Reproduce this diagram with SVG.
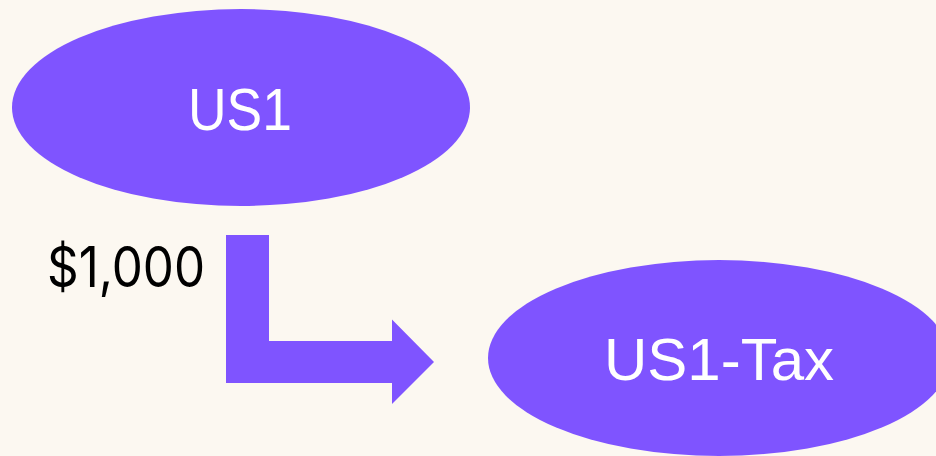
<svg xmlns="http://www.w3.org/2000/svg" width="936" height="456" viewBox="0 0 936 456">
<style>
.node{fill:#7F54FF}
.nt{fill:#FFFFFF;font-family:"Liberation Sans",Arial,sans-serif;font-size:60px;text-anchor:middle}
.lbl{fill:#000000;font-family:Inter,"Liberation Sans",sans-serif;font-size:56px}
</style>
<rect width="936" height="456" fill="#FCF8F1"/>
<g id="us1">
<ellipse class="node" cx="241" cy="107.5" rx="229" ry="98.5"/>
<text class="nt" x="240" y="130" textLength="104" lengthAdjust="spacingAndGlyphs">US1</text>
</g>
<g id="us1-tax">
<ellipse class="node" cx="719" cy="358" rx="231" ry="98"/>
<text class="nt" x="719" y="380">US1-Tax</text>
</g>
<g id="connectors">
<path class="node" d="M226,235 H269 V341 H392 V319.5 L434,362 L392,404 V383 H226 Z"/>
<text class="lbl" x="47" y="287" textLength="158" lengthAdjust="spacingAndGlyphs">$1,000</text>
</g>
</svg>
